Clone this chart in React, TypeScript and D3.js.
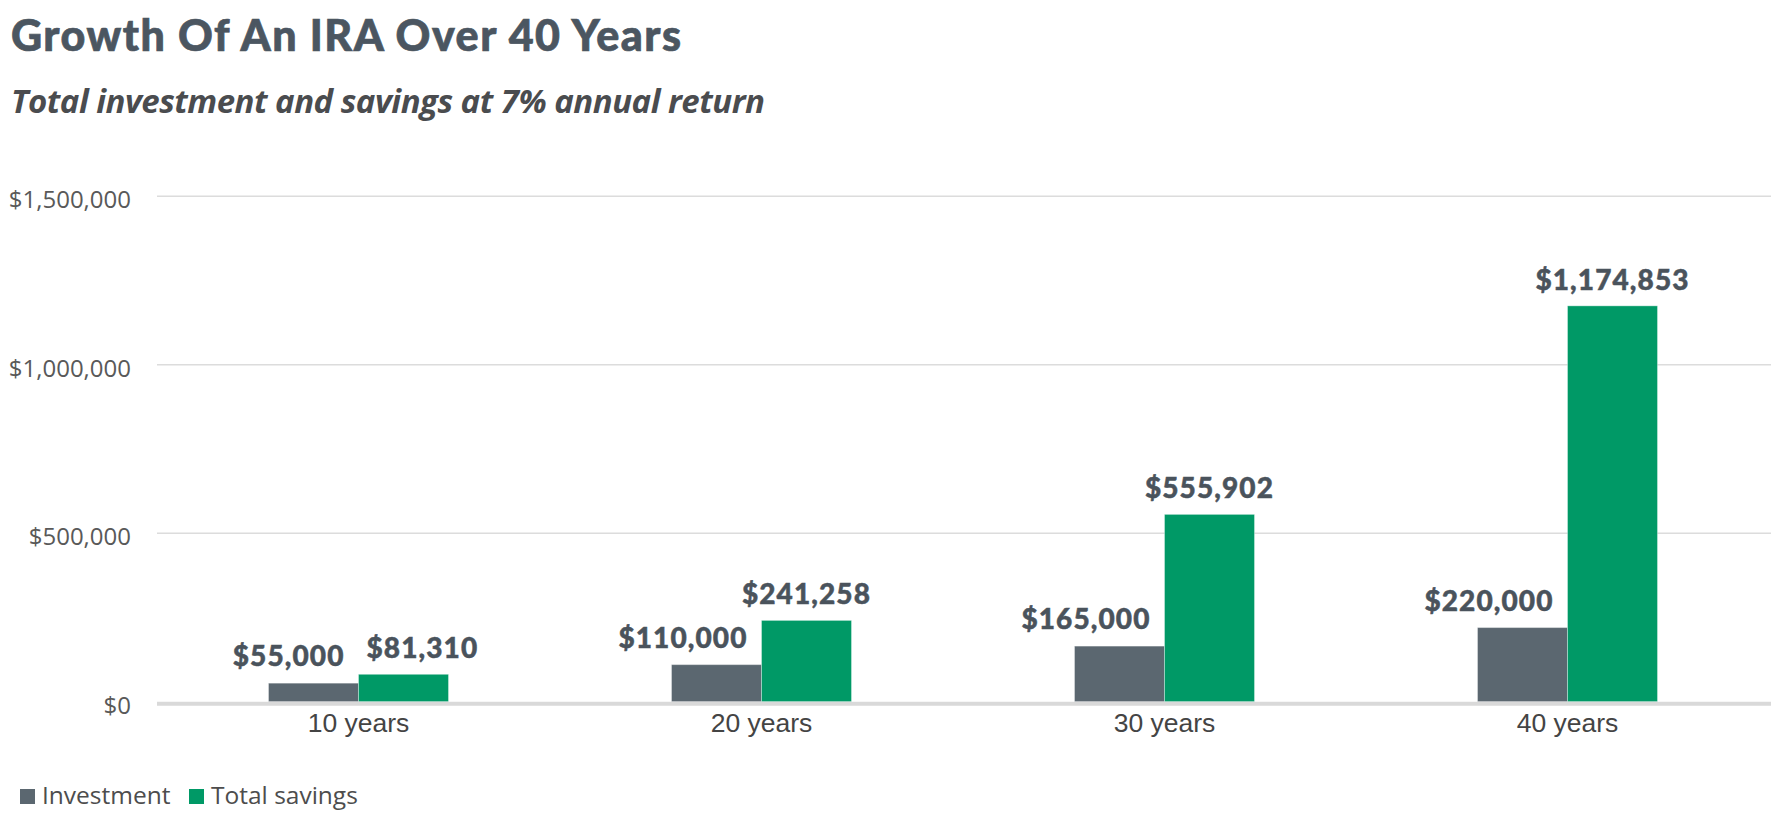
import { useEffect, useRef } from 'react';
import * as d3 from 'd3';

const categories = ['10 years', '20 years', '30 years', '40 years'];
const seriesNames = ['Investment', 'Total savings'];
const investment = [55000, 110000, 165000, 220000];
const totalSavings = [81310, 241258, 555902, 1174853];
const yTicks = [0, 500000, 1000000, 1500000];
const colors = ['#5b6770', '#009966'];

function App() {
  const svgRef = useRef<SVGSVGElement | null>(null);
  const width = 1771;
  const height = 826;
  const margin = { top: 196, right: 2, bottom: 124, left: 157 };

  useEffect(() => {
    document.body.style.margin = '0';
    const svg = d3.select(svgRef.current).attr('viewBox', `0,0,${width},${height}`);
    svg.selectAll('*').remove();

    const x = d3
      .scaleBand()
      .domain(categories)
      .range([margin.left, width - margin.right]);

    const barWidth = 90;
    const xSub = d3
      .scaleBand()
      .domain(seriesNames)
      .range([x.bandwidth() / 2 - barWidth, x.bandwidth() / 2 + barWidth]);

    const y = d3
      .scaleLinear()
      .domain([0, 1500000])
      .range([height - margin.bottom - 0.3, margin.top + 0.3]);

    // title block
    svg
      .append('text')
      .attr('x', 11)
      .attr('y', 51)
      .attr('font-family', 'Lato')
      .attr('font-weight', 900)
      .attr('font-size', 43)
      .attr('fill', '#4b5661')
      .attr('stroke', '#4b5661')
      .attr('stroke-width', 0.7)
      .attr('textLength', 670)
      .attr('lengthAdjust', 'spacing')
      .text('Growth Of An IRA Over 40 Years');

    svg
      .append('text')
      .attr('x', 11)
      .attr('y', 113)
      .attr('font-family', 'Open Sans')
      .attr('font-weight', 700)
      .attr('font-style', 'italic')
      .attr('font-size', 33)
      .attr('fill', '#4a4c4f')
      .attr('textLength', 754)
      .attr('lengthAdjust', 'spacing')
      .text('Total investment and savings at 7% annual return');

    // grid + y labels
    const grid = svg.append('g');
    grid
      .selectAll('line')
      .data(yTicks.filter((t) => t > 0))
      .enter()
      .append('line')
      .attr('x1', margin.left)
      .attr('x2', width)
      .attr('y1', (d) => y(d))
      .attr('y2', (d) => y(d))
      .attr('stroke', '#dcdcdc')
      .attr('stroke-width', 1.5);

    grid
      .selectAll('text')
      .data(yTicks)
      .enter()
      .append('text')
      .attr('x', 131)
      .attr('y', (d) => y(d) + 12)
      .attr('text-anchor', 'end')
      .attr('font-family', 'Open Sans')
      .attr('font-size', 24)
      .attr('fill', '#595959')
      .text((d) => d3.format('$,')(d));

    // bars
    const rows = categories.map((c, i) => ({ cat: c, values: [investment[i], totalSavings[i]] }));
    const groups = svg
      .append('g')
      .selectAll('g')
      .data(rows)
      .enter()
      .append('g')
      .attr('transform', (d) => `translate(${x(d.cat)},0)`);

    groups
      .selectAll('rect')
      .data((d) => d.values.map((v, j) => ({ name: seriesNames[j], v, j })))
      .enter()
      .append('rect')
      .attr('x', (d) => xSub(d.name) as number)
      .attr('y', (d) => y(d.v))
      .attr('width', xSub.bandwidth())
      .attr('height', (d) => y(0) - y(d.v))
      .attr('fill', (d) => colors[d.j])
      .attr('stroke', 'rgba(255,255,255,0.35)')
      .attr('stroke-width', 1);

    // value labels: investment right-aligned near its bar edge, savings centred,
    // nudged right when the two labels sit at about the same height
    groups.each(function (d) {
      const g = d3.select(this);
      const styleLabel = (t: d3.Selection<SVGTextElement, unknown, null, undefined>) =>
        t
          .attr('font-family', 'Lato')
          .attr('font-weight', 900)
          .attr('font-size', 28)
          .attr('letter-spacing', 1.1)
          .attr('fill', '#4a535c')
          .attr('stroke', '#4a535c')
          .attr('stroke-width', 0.5);

      const inv = g
        .append('text')
        .attr('x', (xSub(seriesNames[0]) as number) + xSub.bandwidth() - 14)
        .attr('y', y(d.values[0]) - 17)
        .attr('text-anchor', 'end')
        .text(d3.format('$,')(d.values[0]));
      styleLabel(inv as any);

      const sav = g
        .append('text')
        .attr('x', (xSub(seriesNames[1]) as number) + xSub.bandwidth() / 2)
        .attr('y', y(d.values[1]) - 16)
        .attr('text-anchor', 'middle')
        .text(d3.format('$,')(d.values[1]));
      styleLabel(sav as any);

      if (Math.abs(y(d.values[0]) - y(d.values[1])) < 30) {
        const invRight = (xSub(seriesNames[0]) as number) + xSub.bandwidth() - 14;
        sav.attr('text-anchor', 'start').attr('x', invRight + 22);
      }
    });

    // zero axis
    svg
      .append('line')
      .attr('x1', margin.left)
      .attr('x2', width)
      .attr('y1', y(0) + 2)
      .attr('y2', y(0) + 2)
      .attr('stroke', '#d9d9d9')
      .attr('stroke-width', 4);

    svg
      .append('g')
      .selectAll('text')
      .data(categories)
      .enter()
      .append('text')
      .attr('x', (d) => (x(d) as number) + x.bandwidth() / 2)
      .attr('y', y(0) + 30)
      .attr('text-anchor', 'middle')
      .attr('font-family', 'Liberation Sans')
      .attr('font-size', 26.5)
      .attr('fill', '#444444')
      .text((d) => d);

    // legend
    const legend = svg.append('g').attr('transform', 'translate(20,789)');
    const offsets = [0, 169];
    seriesNames.forEach((name, i) => {
      const item = legend.append('g').attr('transform', `translate(${offsets[i]},0)`);
      item.append('rect').attr('width', 15).attr('height', 15).attr('fill', colors[i]);
      item
        .append('text')
        .attr('x', 22)
        .attr('y', 15)
        .attr('font-family', 'Open Sans')
        .attr('font-size', 24.5)
        .attr('fill', '#4d4d4d')
        .text(name);
    });
  }, []);

  return <svg ref={svgRef} width={width} height={height} style={{ display: 'block' }} />;
}

export default App;
